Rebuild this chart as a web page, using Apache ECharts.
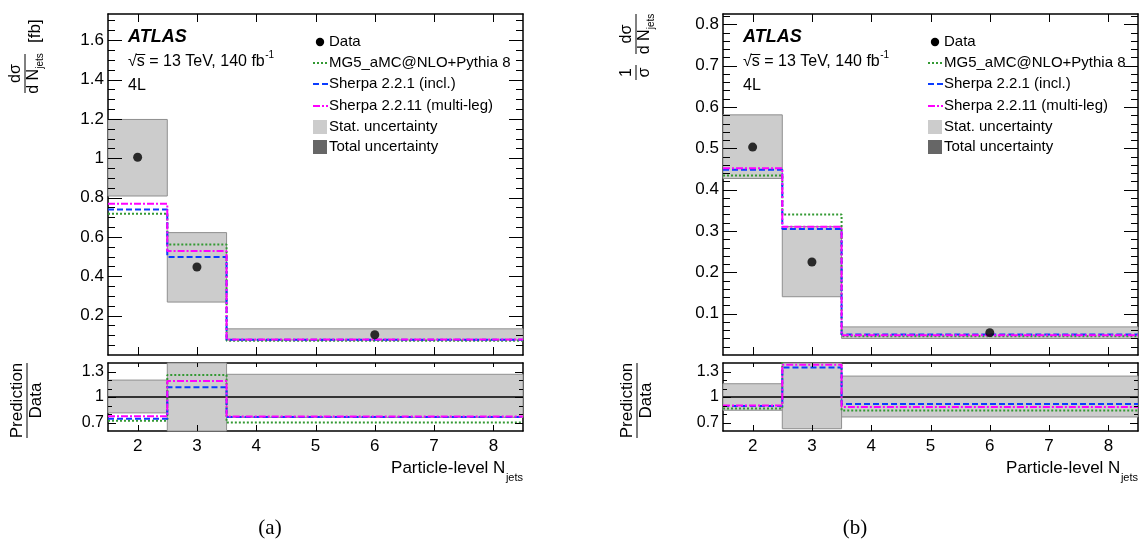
<!DOCTYPE html>
<html><head><meta charset="utf-8">
<script src="https://cdn.jsdelivr.net/npm/echarts@6/dist/echarts.min.js"></script>
<style>html,body{margin:0;padding:0;background:#fff}#c{width:1142px;height:558px}</style>
</head><body><div id="c"></div>
<script>
// ---------- data ----------
const binEdges = [1.5, 2.5, 3.5, 8.5];
const dataX = [2, 3, 6];
const xTicks = [2, 3, 4, 5, 6, 7, 8];

// (a) absolute cross-section [fb]
const dataA = [1.005, 0.447, 0.103];
const statLoA = [0.808, 0.269, 0.076];
const statHiA = [1.197, 0.622, 0.133];
const mg5A = [0.718, 0.562, 0.073];
const sh221A = [0.739, 0.498, 0.078];
const sh2211A = [0.769, 0.528, 0.079];
const ratioLoA = [0.813, 0.59, 0.76];
const ratioHiA = [1.199, 1.42, 1.267];
const ratioMg5A = [0.72, 1.258, 0.70];
const ratioSh221A = [0.745, 1.116, 0.765];
const ratioSh2211A = [0.775, 1.187, 0.772];

// (b) normalised
const dataB = [0.503, 0.225, 0.054];
const statLoB = [0.427, 0.141, 0.040];
const statHiB = [0.581, 0.311, 0.068];
const mg5B = [0.434, 0.340, 0.0454];
const sh221B = [0.448, 0.305, 0.0495];
const sh2211B = [0.452, 0.310, 0.0476];
const ratioLoB = [0.844, 0.627, 0.765];
const ratioHiB = [1.156, 1.42, 1.246];
const ratioMg5B = [0.865, 1.51, 0.84];
const ratioSh221B = [0.893, 1.346, 0.917];
const ratioSh2211B = [0.90, 1.38, 0.882];

const yTicksMainA = [0.2, 0.4, 0.6, 0.8, 1, 1.2, 1.4, 1.6];
const yTicksMainB = [0.1, 0.2, 0.3, 0.4, 0.5, 0.6, 0.7, 0.8];
const yTicksRatio = [0.7, 1, 1.3];
const yMinorRatio = [0.8, 0.9, 1.1, 1.2];

const modelNames = ['MG5_aMC@NLO+Pythia 8', 'Sherpa 2.2.1 (incl.)', 'Sherpa 2.2.11 (multi-leg)'];

// ---------- styles ----------
const FONT = '"Liberation Sans", Arial, Helvetica, sans-serif';
const models = [
  {name: modelNames[0], color: '#339933', dash: [2, 2]},
  {name: modelNames[1], color: '#0a3cff', dash: [6, 3]},
  {name: modelNames[2], color: '#ff00ff', dash: [7, 2, 2, 2]}
];
function minorList(step, max) { const a = []; for (let i = 1; i * step <= max + 1e-9; i++) a.push(+(i * step).toFixed(4)); return a; }
const yMinorA = minorList(0.05, 1.72);
const yMinorB = minorList(0.02, 0.82);

const mctx = document.createElement('canvas').getContext('2d');
function tw(str, size, pre) { mctx.font = (pre || '') + size + 'px ' + FONT; return mctx.measureText(str).width; }

// ---------- axes ----------
const grids = [
  {left: 108, top: 14, width: 415, height: 341},
  {left: 108, top: 363, width: 415, height: 68},
  {left: 723, top: 14, width: 415, height: 341},
  {left: 723, top: 363, width: 415, height: 68}
].map(g => Object.assign({outerBoundsMode: 'none', containLabel: false}, g));

const FRAME = {color: '#000', width: 1.5};
function xAx(g, pos, labels) {
  return {gridIndex: g, type: 'value', position: pos, min: 1.5, max: 8.5,
    axisLine: {show: true, onZero: false, lineStyle: FRAME},
    axisTick: {show: false},
    axisLabel: {show: labels, customValues: xTicks, color: '#000', fontSize: 17, fontFamily: FONT, margin: 7},
    splitLine: {show: false}, minorTick: {show: false}};
}
function yAx(g, pos, c, labels) {
  return {gridIndex: g, type: 'value', position: pos, min: c.min, max: c.max,
    axisLine: {show: true, onZero: false, lineStyle: FRAME},
    axisTick: {show: false},
    axisLabel: {show: labels, customValues: c.maj, color: '#000', fontSize: c.ls, fontFamily: FONT, margin: 4},
    splitLine: {show: false}, minorTick: {show: false}};
}
const yCfg = [
  {min: 0, max: 1.733, maj: yTicksMainA, mnr: yMinorA, ml: 14, nl: 7, ls: 17, xb: 8, xt: 8},
  {min: 0.6, max: 1.4, maj: yTicksRatio, mnr: yMinorRatio, ml: 8, nl: 4, ls: 16, xb: 6, xt: 4},
  {min: 0, max: 0.825, maj: yTicksMainB, mnr: yMinorB, ml: 14, nl: 7, ls: 17, xb: 8, xt: 8},
  {min: 0.6, max: 1.4, maj: yTicksRatio, mnr: yMinorRatio, ml: 8, nl: 4, ls: 16, xb: 6, xt: 4}
];
const xAxes = [], yAxes = [];
for (let g = 0; g < 4; g++) {
  const ratio = g % 2 === 1;
  xAxes.push(xAx(g, 'bottom', ratio));
  xAxes.push(xAx(g, 'top', false));
  yAxes.push(yAx(g, 'left', yCfg[g], true));
  yAxes.push(yAx(g, 'right', yCfg[g], false));
}

// ---------- series ----------
const series = [];
function renderBox(params, api) {
  const p0 = api.coord([api.value(0), api.value(3)]);
  const p1 = api.coord([api.value(1), api.value(2)]);
  const cs = params.coordSys;
  const r = echarts.graphic.clipRectByRect(
    {x: p0[0], y: p0[1], width: p1[0] - p0[0], height: p1[1] - p0[1]},
    {x: cs.x, y: cs.y, width: cs.width, height: cs.height});
  return r && {type: 'rect', shape: r, style: {fill: '#cccccc', stroke: '#8f8f8f', lineWidth: 1}};
}
function steps(vals) {
  const pts = [];
  vals.forEach((v, i) => { pts.push([binEdges[i], v]); pts.push([binEdges[i + 1], v]); });
  return pts;
}
function addPanel(gMain, gRatio, data, lo, hi, preds, rlo, rhi, rpreds) {
  [[gMain, lo, hi], [gRatio, rlo, rhi]].forEach(([g, l, h]) => {
    series.push({type: 'custom', name: 'Stat. uncertainty', xAxisIndex: 2 * g, yAxisIndex: 2 * g,
      data: l.map((v, i) => [binEdges[i], binEdges[i + 1], v, h[i]]),
      encode: {x: [0, 1], y: [2, 3]}, renderItem: renderBox, z: 1, silent: true});
  });
  series.push({type: 'line', name: 'unity', xAxisIndex: 2 * gRatio, yAxisIndex: 2 * gRatio,
    data: [[binEdges[0], 1], [binEdges[binEdges.length - 1], 1]], symbol: 'none',
    lineStyle: {color: '#000', width: 1.3}, z: 2, silent: true});
  models.forEach((m, k) => {
    [[gMain, preds[k]], [gRatio, rpreds[k]]].forEach(([g, vals]) => {
      series.push({type: 'line', name: m.name, xAxisIndex: 2 * g, yAxisIndex: 2 * g,
        data: steps(vals), symbol: 'none', clip: true, z: 3 + k, silent: true,
        lineStyle: {color: m.color, width: 2, type: m.dash}});
    });
  });
  series.push({type: 'scatter', name: 'Data', xAxisIndex: 2 * gMain, yAxisIndex: 2 * gMain,
    data: dataX.map((x, i) => [x, data[i]]), symbol: 'circle', symbolSize: 9,
    itemStyle: {color: '#000'}, z: 10, silent: true});
}
addPanel(0, 1, dataA, statLoA, statHiA, [mg5A, sh221A, sh2211A], ratioLoA, ratioHiA, [ratioMg5A, ratioSh221A, ratioSh2211A]);
addPanel(2, 3, dataB, statLoB, statHiB, [mg5B, sh221B, sh2211B], ratioLoB, ratioHiB, [ratioMg5B, ratioSh221B, ratioSh2211B]);

// ---------- texts / legend ----------
function T(text, x, y, size, opt) {
  opt = opt || {};
  return {type: 'text', style: {text: text, x: x, y: y, font: (opt.pre || '') + size + 'px ' + (opt.family || FONT),
    fill: '#000', textAlign: opt.align || 'left', align: opt.align || 'left',
    textVerticalAlign: opt.va || 'middle', verticalAlign: opt.va || 'middle'}, silent: true};
}
function L(x1, y1, x2, y2, color, w, dash) {
  return {type: 'line', shape: {x1: x1, y1: y1, x2: x2, y2: y2}, style: {stroke: color, lineWidth: w, lineDash: dash || null}, silent: true, z: 50};
}
const legendRows = [
  {label: 'Data', kind: 'dot'},
  {label: modelNames[0], kind: 'line', m: models[0]},
  {label: modelNames[1], kind: 'line', m: models[1]},
  {label: modelNames[2], kind: 'line', m: models[2]},
  {label: 'Stat. uncertainty', kind: 'box', fill: '#cccccc'},
  {label: 'Total uncertainty', kind: 'box', fill: '#666666'}
];
const legendY = [42, 63, 84, 106, 127, 147];
function fracGroup(x, y, len, num, den, denSub, size, subSize) {
  const ch = [L(0, 0, len, 0, '#000', 1)];
  ch.push(T(num, len / 2, -1, size, {align: 'center', va: 'bottom'}));
  const wDen = tw(den, size) + (denSub ? tw(denSub, subSize) : 0);
  const x0 = len / 2 - wDen / 2;
  ch.push(T(den, x0, 1, size, {va: 'top'}));
  if (denSub) ch.push(T(denSub, x0 + tw(den, size), 10, subSize, {va: 'top'}));
  return {type: 'group', x: x, y: y, rotation: Math.PI / 2, children: ch};
}
const graphics = [];
function panelGraphics(dx) {
  const x0 = 128 + dx;
  graphics.push(T('ATLAS', x0, 37, 18, {pre: 'italic bold '}));
  const s1 = '√s = 13 TeV, 140 fb';
  graphics.push(T(s1, x0, 62, 16));
  graphics.push(T('-1', x0 + tw(s1, 16) + 0.5, 55, 10));
  graphics.push(L(x0 + tw('√', 16) - 0.8, 54.5, x0 + tw('√s', 16) + 0.5, 54.5, '#000', 1));
  graphics.push(T('4L', x0, 86, 16));
  legendRows.forEach((r, i) => {
    const y = legendY[i], lx = 313 + dx;
    if (r.kind === 'dot') graphics.push({type: 'circle', shape: {cx: lx + 7, cy: y, r: 4.2}, style: {fill: '#000'}, silent: true});
    else if (r.kind === 'line') graphics.push(L(lx, y, lx + 15, y, r.m.color, 2, r.m.dash));
    else graphics.push({type: 'rect', shape: {x: lx, y: y - 7, width: 14, height: 14}, style: {fill: r.fill}, silent: true});
    graphics.push(T(r.label, lx + 16, y, 15));
  });
  const xr = 523 + dx;
  const wSub = tw('jets', 11);
  graphics.push(T('jets', xr, 478, 11, {align: 'right'}));
  graphics.push(T('Particle-level N', xr - wSub - 0.5, 468, 17, {align: 'right'}));
  graphics.push(fracGroup(27 + dx * (610 / 615), 438, 75, 'Prediction', 'Data', null, 17, 10));
}
panelGraphics(0);
panelGraphics(615);
graphics.push(fracGroup(25, 93, 39, 'dσ', 'd N', 'jets', 16, 10));
graphics.push({type: 'group', x: 25, y: 43, rotation: Math.PI / 2, children: [T('[fb]', 0, 2, 17, {va: 'top'})]});
graphics.push(fracGroup(636, 80, 15, '1', 'σ', null, 16, 10));
graphics.push(fracGroup(636, 54, 40, 'dσ', 'd N', 'jets', 16, 10));
graphics.push(T('(a)', 270, 528, 21, {align: 'center', family: '"Liberation Serif", "DejaVu Serif", serif'}));
graphics.push(T('(b)', 855, 528, 21, {align: 'center', family: '"Liberation Serif", "DejaVu Serif", serif'}));

const chart = echarts.init(document.getElementById('c'), null, {renderer: 'canvas'});
chart.setOption({
  animation: false,
  backgroundColor: '#ffffff',
  textStyle: {fontFamily: FONT},
  grid: grids,
  xAxis: xAxes,
  yAxis: yAxes,
  series: series
});

// inward ticks on all four sides, positioned through the axes' own scales
const tickEls = [];
for (let g = 0; g < 4; g++) {
  const c = yCfg[g];
  const f = {xAxisIndex: 2 * g, yAxisIndex: 2 * g};
  const pLB = chart.convertToPixel(f, [1.5, c.min]);
  const pRT = chart.convertToPixel(f, [8.5, c.max]);
  const xl = pLB[0], yb = pLB[1], xr = pRT[0], yt = pRT[1];
  [[c.maj, c.ml], [c.mnr, c.nl]].forEach(([vals, len]) => {
    vals.forEach(v => {
      const y = Math.round(chart.convertToPixel(f, [1.5, v])[1]) + 0.5;
      tickEls.push(L(xl, y, xl + len, y, '#000', 1));
      tickEls.push(L(xr, y, xr - len, y, '#000', 1));
    });
  });
  xTicks.forEach(v => {
    const x = Math.round(chart.convertToPixel(f, [v, c.min])[0]) + 0.5;
    tickEls.push(L(x, yb, x, yb - c.xb, '#000', 1));
    tickEls.push(L(x, yt, x, yt + c.xt, '#000', 1));
  });
}
chart.setOption({graphic: {elements: graphics.concat(tickEls)}});
</script></body></html>
